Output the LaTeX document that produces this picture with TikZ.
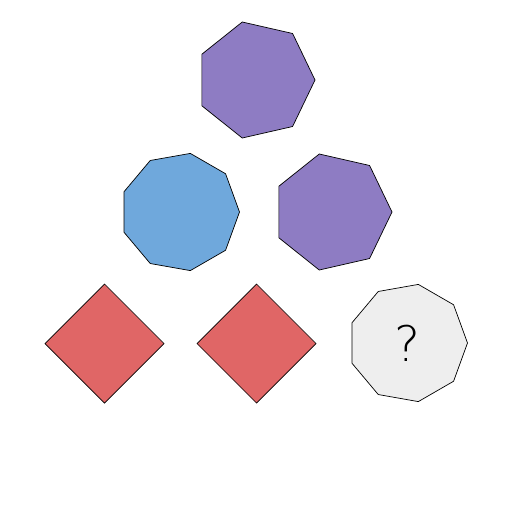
\documentclass[tikz,border=0pt]{standalone}
\usepackage{fontspec}
\usepackage{tikz}
\usetikzlibrary{shapes.geometric}
\newfontfamily\qfont{DejaVu Sans ExtraLight}
\definecolor{puzpurple}{HTML}{8E7CC3}
\definecolor{puzblue}{HTML}{6FA8DC}
\definecolor{puzred}{HTML}{E06666}
\definecolor{puzgray}{HTML}{EEEEEE}

\begin{document}
\begin{tikzpicture}[
    x=1pt, y=-1pt,
    shapebox/.style={draw, line width=0.7pt, inner sep=0pt, outer sep=0pt, minimum size=119pt},
    hepta/.style={shapebox, regular polygon, regular polygon sides=7, shape border rotate=-90, fill=puzpurple},
    nona/.style={shapebox, regular polygon, regular polygon sides=9, shape border rotate=-90},
    rhomb/.style={shapebox, regular polygon, regular polygon sides=4, shape border rotate=45, fill=puzred}
]
    \useasboundingbox (0,0) rectangle (512,512);
    % top row
    \node[hepta] (top) at (255.5,80) {};
    % middle row
    \node[nona, fill=puzblue] (midleft) at (180,212) {};
    \node[hepta] (midright) at (332.5,212) {};
    % bottom row
    \node[rhomb] (botleft) at (104.5,343.5) {};
    \node[rhomb] (botmid) at (256.5,343.5) {};
    \node[nona, fill=puzgray, font=\qfont\fontsize{49}{49}\selectfont] (botright) at (408,343) {?};
\end{tikzpicture}
\end{document}
